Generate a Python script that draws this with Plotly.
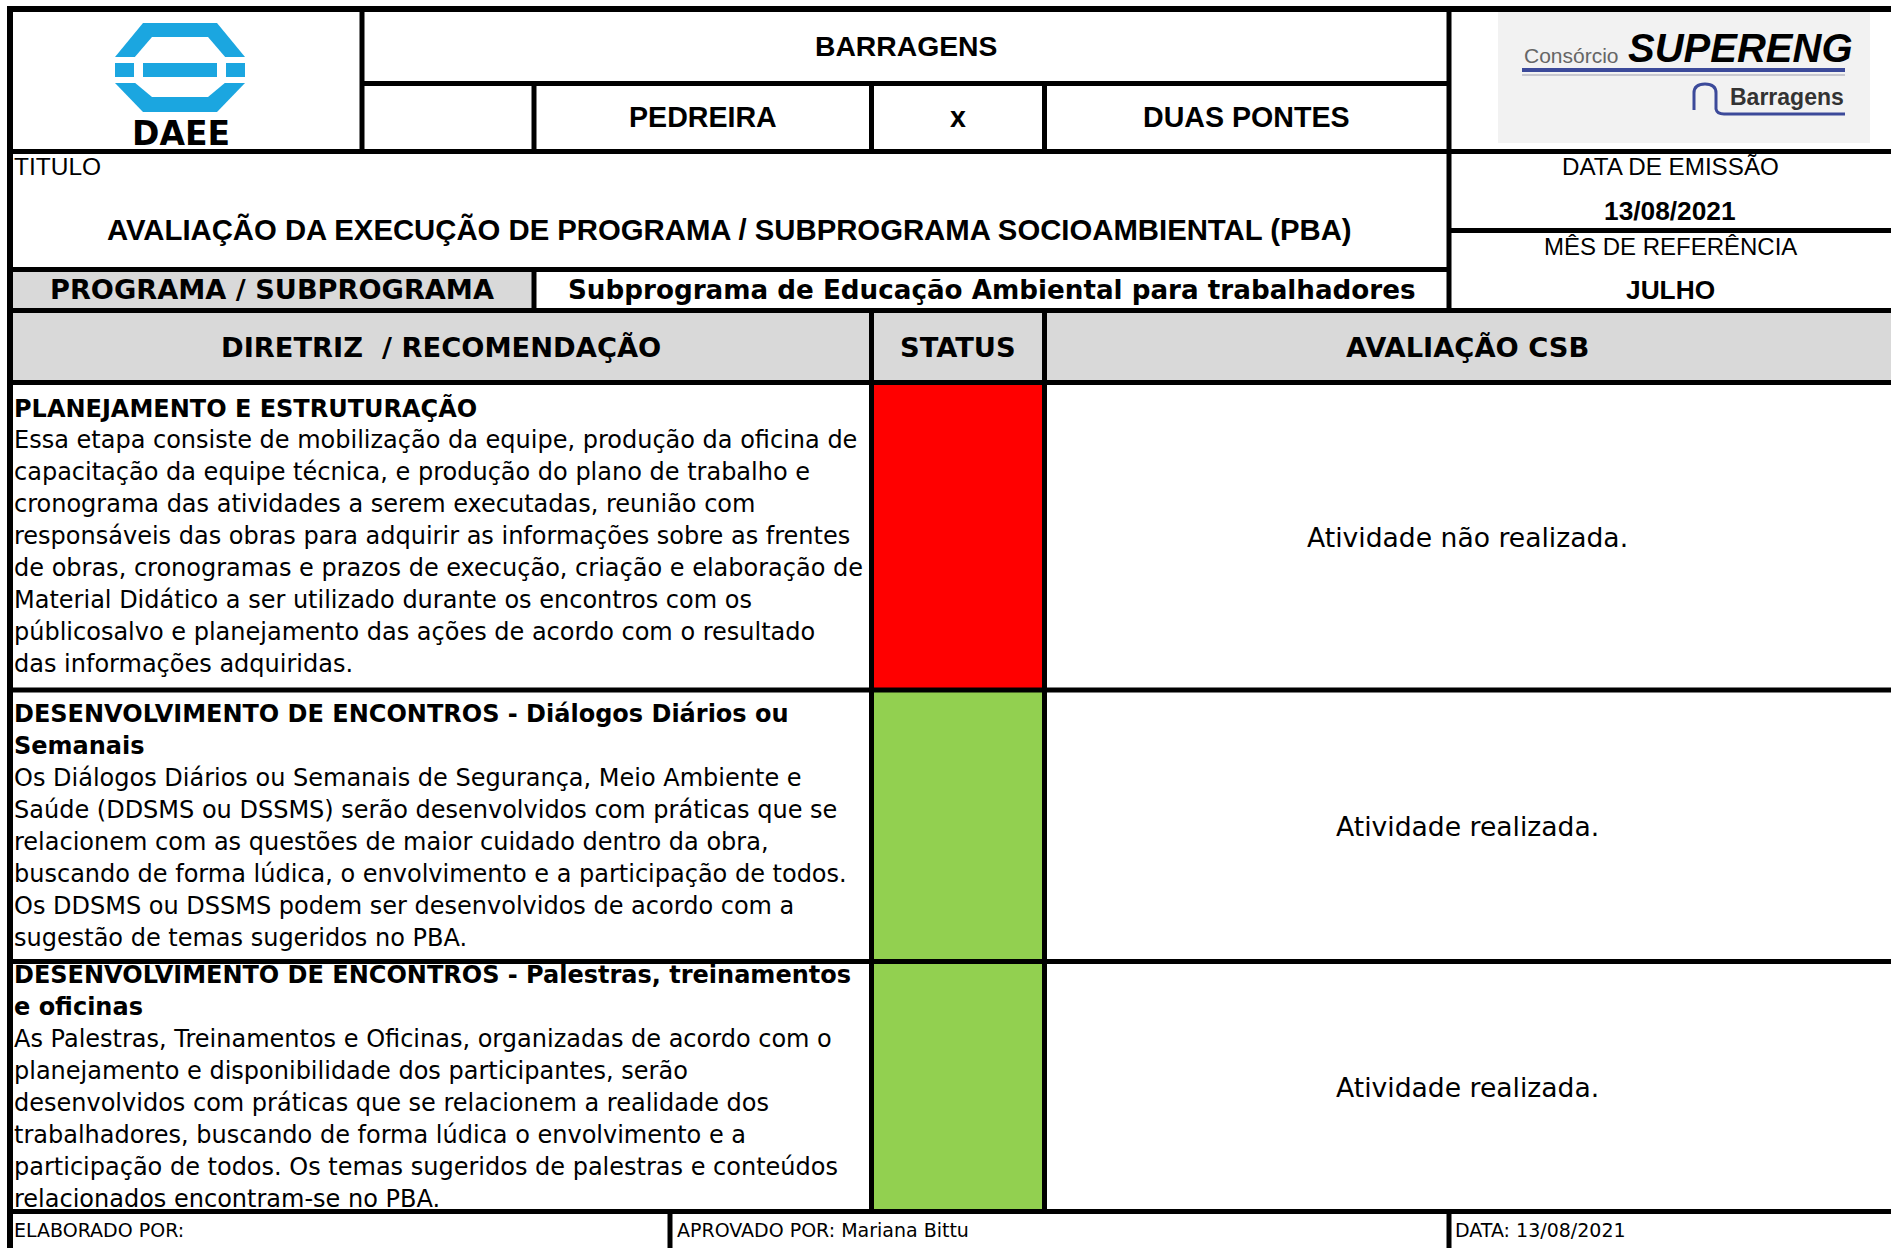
import plotly.graph_objects as go

# ---------------- data (texts of the form) ----------------
HEADER_TITLE = "BARRAGENS"
SITES = ["PEDREIRA", "x", "DUAS PONTES"]
TITLE_LABEL = "TITULO"
DOC_TITLE = "AVALIAÇÃO DA EXECUÇÃO DE PROGRAMA / SUBPROGRAMA SOCIOAMBIENTAL (PBA)"
META_LABELS = ["DATA DE EMISSÃO", "MÊS DE REFERÊNCIA"]
META_VALUES = ["13/08/2021", "JULHO"]
PROGRAM_LABEL = "PROGRAMA / SUBPROGRAMA"
PROGRAM_NAME = "Subprograma de Educação Ambiental para trabalhadores"
COLUMN_HEADERS = ["DIRETRIZ\u00a0 / RECOMENDAÇÃO", "STATUS", "AVALIAÇÃO CSB"]

ROW_HEADINGS = [
    ["PLANEJAMENTO E ESTRUTURAÇÃO"],
    ["DESENVOLVIMENTO DE ENCONTROS - Diálogos Diários ou", "Semanais"],
    ["DESENVOLVIMENTO DE ENCONTROS - Palestras, treinamentos", "e oficinas"],
]
ROW_BODIES = [
    [
        "Essa etapa consiste de mobilização da equipe, produção da oficina de",
        "capacitação da equipe técnica, e produção do plano de trabalho e",
        "cronograma das atividades a serem executadas, reunião com",
        "responsáveis das obras para adquirir as informações sobre as frentes",
        "de obras, cronogramas e prazos de execução, criação e elaboração de",
        "Material Didático a ser utilizado durante os encontros com os",
        "públicosalvo e planejamento das ações de acordo com o resultado",
        "das informações adquiridas.",
    ],
    [
        "Os Diálogos Diários ou Semanais de Segurança, Meio Ambiente e",
        "Saúde (DDSMS ou DSSMS) serão desenvolvidos com práticas que se",
        "relacionem com as questões de maior cuidado dentro da obra,",
        "buscando de forma lúdica, o envolvimento e a participação de todos.",
        "Os DDSMS ou DSSMS podem ser desenvolvidos de acordo com a",
        "sugestão de temas sugeridos no PBA.",
    ],
    [
        "As Palestras, Treinamentos e Oficinas, organizadas de acordo com o",
        "planejamento e disponibilidade dos participantes, serão",
        "desenvolvidos com práticas que se relacionem a realidade dos",
        "trabalhadores, buscando de forma lúdica o envolvimento e a",
        "participação de todos. Os temas sugeridos de palestras e conteúdos",
        "relacionados encontram-se no PBA.",
    ],
]
ROW_STATUS = ["não realizada", "realizada", "realizada"]
ROW_EVALUATION = ["Atividade não realizada.", "Atividade realizada.", "Atividade realizada."]
FOOTER = ["ELABORADO POR:", "APROVADO POR: Mariana Bittu", "DATA: 13/08/2021"]
LOGO_LEFT = "DAEE"
LOGO_RIGHT = ["Consórcio", "SUPERENG", "Barragens"]

# ---------------- layout / style ----------------
W, H = 1891, 1248
STATUS_COLORS = {"não realizada": "#ff0000", "realizada": "#92d050"}
GRAY = "#d9d9d9"
ARIAL = "Liberation Sans, Arial, sans-serif"
VERD = "DejaVu Sans, Verdana, sans-serif"
LW = 5

XL, XLOGO, XC1, XC2, XC3, XR, XE, XF1 = 10, 362, 534, 871.5, 1044.5, 1449, W, 670
YT, YR1, YR2, YDATE, YTITLE, YPROG, YHEAD = 9, 83.5, 151.5, 230.5, 269.5, 310.5, 382.5
ROW_EDGES = [382.5, 690, 961.5, 1211.5]
LINE_H = 32

fig = go.Figure()
fig.add_trace(go.Scatter(x=[0, W], y=[0, H], mode="markers",
                         marker=dict(opacity=0), hoverinfo="skip", showlegend=False))

shapes = []
annots = []


def rect(x0, y0, x1, y1, color):
    shapes.append(dict(type="rect", xref="x", yref="y", x0=x0, y0=y0, x1=x1, y1=y1,
                       fillcolor=color, line=dict(width=0), layer="below"))


def line(x0, y0, x1, y1, w=LW, color="black"):
    shapes.append(dict(type="line", xref="x", yref="y", x0=x0, y0=y0, x1=x1, y1=y1,
                       line=dict(color=color, width=w), layer="above"))


def path(d, fill=None, color=None, w=0):
    s = dict(type="path", xref="x", yref="y", path=d, layer="above",
             line=dict(width=w, color=color or "rgba(0,0,0,0)"))
    if fill:
        s["fillcolor"] = fill
    shapes.append(s)


def text(x, y, t, size, family=ARIAL, bold=False, anchor="center", color="black", italic=False):
    annots.append(dict(x=x, y=y, xref="x", yref="y", text=t, showarrow=False,
                       xanchor=anchor, yanchor="middle", borderpad=0, borderwidth=0,
                       font=dict(family=family, size=size, color=color,
                                 weight="bold" if bold else "normal",
                                 style="italic" if italic else "normal")))


# fills
rect(XL, YTITLE, XC1, YPROG, GRAY)
rect(XL, YPROG, XE, YHEAD, GRAY)
for i, st in enumerate(ROW_STATUS):
    rect(XC2, ROW_EDGES[i], XC3, ROW_EDGES[i + 1], STATUS_COLORS[st])

# DAEE logo
BLUE = "#1ba6e0"
path("M143,23 L217,23 L245,57 L245,83 L217,112 L143,112 L115,83 L115,57 Z", fill=BLUE)
path("M152,37 L208,37 L226,58 L226,82 L208,97 L152,97 L134,82 L134,58 Z", fill="white")
path("M110,57 L250,57 L250,63 L110,63 Z", fill="white")
path("M110,77 L250,77 L250,83 L110,83 Z", fill="white")
path("M143,63 L217,63 L217,77 L143,77 Z", fill=BLUE)
text(181, 133, LOGO_LEFT, 33, family=VERD, bold=True)

# SUPERENG logo
path("M1498,10 L1870,10 L1870,143 L1498,143 Z", fill="#f2f2f2")
path("M1522,70 L1845,70", color="#3c4a9a", w=4)
path("M1522,75 L1845,75", color="#c8c8d0", w=2)
path("M1694,110 L1694,93 Q1694,84 1705,84 Q1716,84 1716,93 L1716,109 Q1717,114 1724,114 L1845,114",
     color="#3c4a9a", w=3)
text(1524, 55, LOGO_RIGHT[0], 21, anchor="left", color="#666")
text(1740, 48, LOGO_RIGHT[1], 40, bold=True, italic=True)
text(1787, 97, LOGO_RIGHT[2], 23, bold=True, color="#333")

# grid lines
line(7, YT, XE, YT, 6)
line(XL, 6, XL, H, 6)
line(XLOGO, YT, XLOGO, YR2)
line(XLOGO, YR1, XR, YR1)
for xv in (XC1, XC2, XC3):
    line(xv, YR1, xv, YR2)
line(XR, YT, XR, YPROG)
line(XL, YR2, XE, YR2)
line(XL, YTITLE, XR, YTITLE)
line(XR, YDATE, XE, YDATE)
line(XC1, YTITLE, XC1, YPROG)
line(XL, YPROG, XE, YPROG)
for yv in ROW_EDGES:
    line(XL, yv, XE, yv)
for xv in (XC2, XC3):
    line(xv, YPROG, xv, ROW_EDGES[-1])
for xv in (XF1, XR):
    line(xv, ROW_EDGES[-1], xv, H)

# header texts
text((XLOGO + XR) / 2, 45.5, HEADER_TITLE, 28.3, bold=True)
site_cells = [(XC1, XC2), (XC2, XC3), (XC3, XR)]
for (a, b), s in zip(site_cells, SITES):
    text((a + b) / 2, 117, s, 28.6, bold=True)
text(14, 166.5, TITLE_LABEL, 24.5, anchor="left")
text((XL + XR) / 2, 229, DOC_TITLE, 29.3, bold=True)
text((XR + XE) / 2, 166.5, META_LABELS[0], 24.2)
text((XR + XE) / 2, 211, META_VALUES[0], 26.3, bold=True)
text((XR + XE) / 2, 246, META_LABELS[1], 24)
text((XR + XE) / 2, 289.5, META_VALUES[1], 26.3, bold=True)
text((XL + XC1) / 2, 289.5, PROGRAM_LABEL, 27.2, family=VERD, bold=True)
text((XC1 + XR) / 2, 289.5, PROGRAM_NAME, 26.2, family=VERD, bold=True)
for (a, b), h in zip([(XL, XC2), (XC2, XC3), (XC3, XE)], COLUMN_HEADERS):
    text((a + b) / 2, 347, h, 27.3, family=VERD, bold=True)

# rows
for i in range(len(ROW_HEADINGS)):
    top, bot = ROW_EDGES[i], ROW_EDGES[i + 1]
    lines = [(t, True) for t in ROW_HEADINGS[i]] + [(t, False) for t in ROW_BODIES[i]]
    n = len(lines)
    yc = (top + bot) / 2
    for k, (t, b) in enumerate(lines):
        text(14, yc + (k - (n - 1) / 2) * LINE_H, t, 24, family=VERD, bold=b, anchor="left")
    text((XC3 + XE) / 2, yc + 1, ROW_EVALUATION[i], 26.6, family=VERD)

# footer
for xv, t in zip([14, XF1 + 7, XR + 6], FOOTER):
    text(xv, 1230, t, 19, family=VERD, anchor="left")

fig.update_layout(
    width=W, height=H, margin=dict(l=0, r=0, t=0, b=0),
    paper_bgcolor="white", plot_bgcolor="white",
    xaxis=dict(range=[0, W], visible=False, fixedrange=True),
    yaxis=dict(range=[H, 0], visible=False, fixedrange=True),
    shapes=shapes, annotations=annots, showlegend=False,
)

fig.write_html("out.html", config={"displayModeBar": False},
               post_script="document.body.style.margin='0px';")
